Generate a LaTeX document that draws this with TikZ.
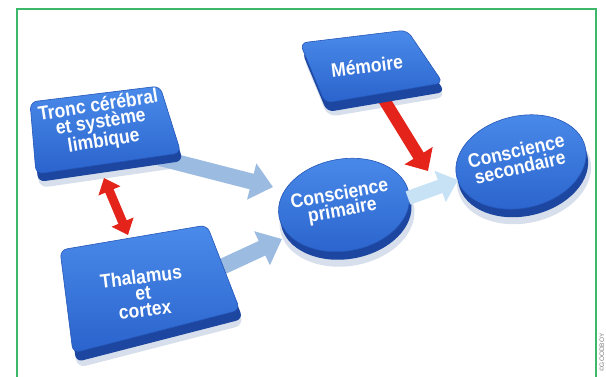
\documentclass[tikz,border=0pt]{standalone}
\usepackage{fontspec}
\setmainfont{Liberation Sans}
\newfontfamily\lblfont[FakeStretch=0.9]{Liberation Sans}
\usetikzlibrary{arrows.meta,shapes.geometric}
\definecolor{faceA}{HTML}{4A8BEA}
\definecolor{faceB}{HTML}{2A63CC}
\definecolor{faceEdge}{HTML}{2556B8}
\definecolor{sideC}{HTML}{1C469F}
\definecolor{shadowC}{HTML}{8FA3C8}
\definecolor{arrBlue}{HTML}{9BBBE0}
\definecolor{arrLight}{HTML}{C7E1F5}
\definecolor{arrRed}{HTML}{E4241B}
\definecolor{frameGreen}{HTML}{3DB868}
\tikzset{
  face/.style={rounded corners=7pt, top color=faceA, bottom color=faceB, draw=faceEdge, line width=0.6pt},
  side/.style={rounded corners=7pt, fill=sideC},
  shadowbox/.style={rounded corners=9pt, fill=shadowC, opacity=0.35},
  lbl/.style={text=white, font=\lblfont\bfseries\fontsize{19.5}{16.5}\selectfont, align=center, inner sep=0pt},
  disc/.style={ellipse, minimum width=132pt, minimum height=92pt, top color=faceA, bottom color=faceB, draw=faceEdge, line width=0.6pt, inner sep=0pt},
  discside/.style={ellipse, minimum width=132pt, minimum height=92pt, fill=sideC, inner sep=0pt},
  discshadow/.style={ellipse, minimum width=136pt, minimum height=96pt, fill=shadowC, opacity=0.35, inner sep=0pt},
  bluearrow/.style={line width=16pt, arrBlue, -{Triangle[width=36pt,length=22pt]}},
  lightarrow/.style={line width=14pt, arrLight, -{Triangle[width=32pt,length=19pt]}},
  redarrow/.style={line width=12pt, arrRed, -{Triangle[width=32pt,length=18pt]}},
  redboth/.style={line width=9pt, arrRed, {Triangle[width=23pt,length=14pt]}-{Triangle[width=23pt,length=14pt]}},
}
\begin{document}
\begin{tikzpicture}[x=1pt,y=-1pt]
\useasboundingbox (0,0) rectangle (606,376);
% frame
\draw[frameGreen, line width=1.6pt] (17,380) -- (17,9) -- (596,9) -- (596,380);
\node[rotate=90, anchor=west, text=gray, font=\fontsize{6.5}{7}\selectfont, inner sep=0pt] (credit) at (602,372) {\textcopyright GOODBOY};

% coordinates of boxes
\coordinate (tTL) at (30,102); \coordinate (tTR) at (160,86);
\coordinate (tBR) at (181,153); \coordinate (tBL) at (36,174);
\coordinate (mTL) at (300,43); \coordinate (mTR) at (407,30);
\coordinate (mBR) at (443,83); \coordinate (mBL) at (325,103);
\coordinate (hTL) at (60,250); \coordinate (hTR) at (207,225);
\coordinate (hBR) at (240,310); \coordinate (hBL) at (73,353);

% arrow end points
\coordinate (a1s) at (160,158); \coordinate (a1e) at (273,187);
\coordinate (a2s) at (215,270); \coordinate (a2e) at (282,239);
\coordinate (a3s) at (408,198); \coordinate (a3e) at (458,180);
\coordinate (r1s) at (383,98);  \coordinate (r1e) at (428,171);
\coordinate (r2s) at (104,178); \coordinate (r2e) at (128,235);

% shadows
\fill[shadowbox] ([shift={(3,14)}]tTL) -- ([shift={(3,14)}]tTR) -- ([shift={(3,14)}]tBR) -- ([shift={(3,14)}]tBL) -- cycle;
\fill[shadowbox] ([shift={(3,14)}]mTL) -- ([shift={(3,14)}]mTR) -- ([shift={(3,14)}]mBR) -- ([shift={(3,14)}]mBL) -- cycle;
\fill[shadowbox] ([shift={(4,15)}]hTL) -- ([shift={(4,15)}]hTR) -- ([shift={(4,15)}]hBR) -- ([shift={(4,15)}]hBL) -- cycle;
\node[discshadow, rotate=10] (primshadow) at (347,218) {};
\node[discshadow, rotate=13] (secshadow) at (524,175) {};

% arrows under boxes
\draw[bluearrow] (a1s) -- (a1e);
\draw[bluearrow] (a2s) -- (a2e);
\draw[redarrow] (r1s) -- (r1e);

% box sides
\fill[side] ([shift={(2,8)}]tTL) -- ([shift={(2,8)}]tTR) -- ([shift={(2,8)}]tBR) -- ([shift={(2,8)}]tBL) -- cycle;
\fill[side] ([shift={(2,9)}]mTL) -- ([shift={(2,9)}]mTR) -- ([shift={(2,9)}]mBR) -- ([shift={(2,9)}]mBL) -- cycle;
\fill[side] ([shift={(3,9)}]hTL) -- ([shift={(3,9)}]hTR) -- ([shift={(3,9)}]hBR) -- ([shift={(3,9)}]hBL) -- cycle;
% box faces
\path[face] (tTL) -- (tTR) -- (tBR) -- (tBL) -- cycle;
\path[face] (mTL) -- (mTR) -- (mBR) -- (mBL) -- cycle;
\path[face] (hTL) -- (hTR) -- (hBR) -- (hBL) -- cycle;

% discs
\node[discside, rotate=10] (primside) at (346,213) {};
\node[disc, rotate=10] (prim) at (344,205) {};
\node[discside, rotate=13] (secside) at (523,170) {};
\node[disc, rotate=13] (sec) at (521,162) {};

\draw[lightarrow] (a3s) -- (a3e);
\draw[redboth] (r2s) -- (r2e);

% labels
\node[lbl, rotate=9] (tronc) at (101,124) {Tronc cérébral\\et système\\limbique};
\node[lbl, rotate=7] (memo) at (367,66) {Mémoire};
\node[lbl, rotate=7] (thal) at (143,293) {Thalamus\\et\\cortex};
\node[lbl, rotate=10] (primtxt) at (341,203) {Conscience\\primaire};
\node[lbl, rotate=13] (sectxt) at (518,159) {Conscience\\secondaire};
\end{tikzpicture}
\end{document}
